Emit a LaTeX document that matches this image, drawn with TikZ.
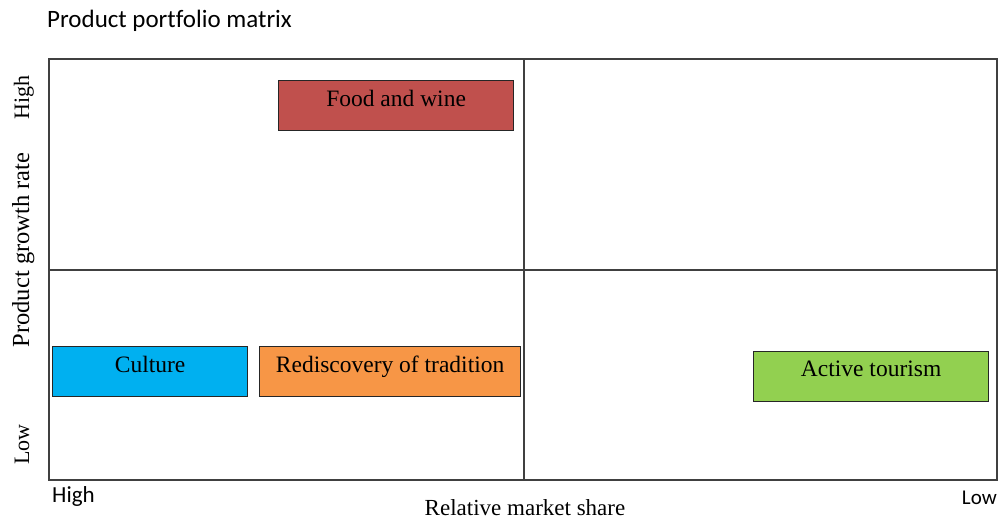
\documentclass[tikz,border=0pt]{standalone}
\usepackage{fontspec}
\setmainfont{Liberation Serif}
\newfontfamily\calfont[Ligatures=NoCommon]{Carlito}
\definecolor{cred}{HTML}{C0504D}
\definecolor{cblue}{HTML}{00B0F0}
\definecolor{corange}{HTML}{F79646}
\definecolor{cgreen}{HTML}{92D050}
\definecolor{frame}{HTML}{404040}
\begin{document}
\begin{tikzpicture}[x=1pt,y=-1pt,
  itembox/.style={draw=black!85, line width=1.2pt, minimum height=50pt, inner sep=0pt,
    font=\fontsize{23.5}{26}\selectfont, anchor=north west},
  axislab/.style={font=\fontsize{23}{26}\selectfont},
  sanslab/.style={font=\calfont\fontsize{22}{26}\selectfont}]
\useasboundingbox (0,0) rectangle (999,519);
% frame
\draw[frame, line width=1.5pt] (49,59) rectangle (997,480);
\coordinate (vt) at (524,59);
\coordinate (vb) at (524,480);
\coordinate (hl) at (49,270);
\coordinate (hr) at (997,270);
\draw[frame, line width=1.2pt] (vt) -- (vb);
\draw[frame, line width=1.2pt] (hl) -- (hr);
% title
\node[sanslab, font=\calfont\fontsize{25}{28}\selectfont, anchor=base west, inner sep=0pt] (title) at (47,28) {Product portfolio matrix};
% boxes
\node[itembox, fill=cred, minimum width=235pt] (food) at (278,80) {\raisebox{15pt}{Food and wine}};
\node[itembox, fill=cblue, minimum width=195pt] (culture) at (52,346) {\raisebox{15pt}{Culture}};
\node[itembox, fill=corange, minimum width=261pt] (tradition) at (259,346) {\raisebox{15pt}{Rediscovery of tradition}};
\node[itembox, fill=cgreen, minimum width=235pt] (active) at (753,351) {\raisebox{15pt}{Active tourism}};
% axis labels
\node[sanslab, font=\calfont\fontsize{23}{26}\selectfont, anchor=base west, inner sep=0pt] (xhigh) at (52,502) {High};
\node[sanslab, font=\calfont\fontsize{21}{26}\selectfont, anchor=base east, inner sep=0pt] (xlow) at (997,504) {Low};
\node[axislab, anchor=base, inner sep=0pt] (xlab) at (525,515) {Relative market share};
\node[axislab, font=\fontsize{22}{26}\selectfont, rotate=90, anchor=base east, inner sep=0pt] (yhigh) at (29,75) {High};
\node[axislab, font=\fontsize{24.5}{26}\selectfont, rotate=90, anchor=base, inner sep=0pt] (ylab) at (29,250) {Product growth rate};
\node[axislab, font=\fontsize{22}{26}\selectfont, rotate=90, anchor=base west, inner sep=0pt] (ylow) at (29,465) {Low};
\end{tikzpicture}
\end{document}
